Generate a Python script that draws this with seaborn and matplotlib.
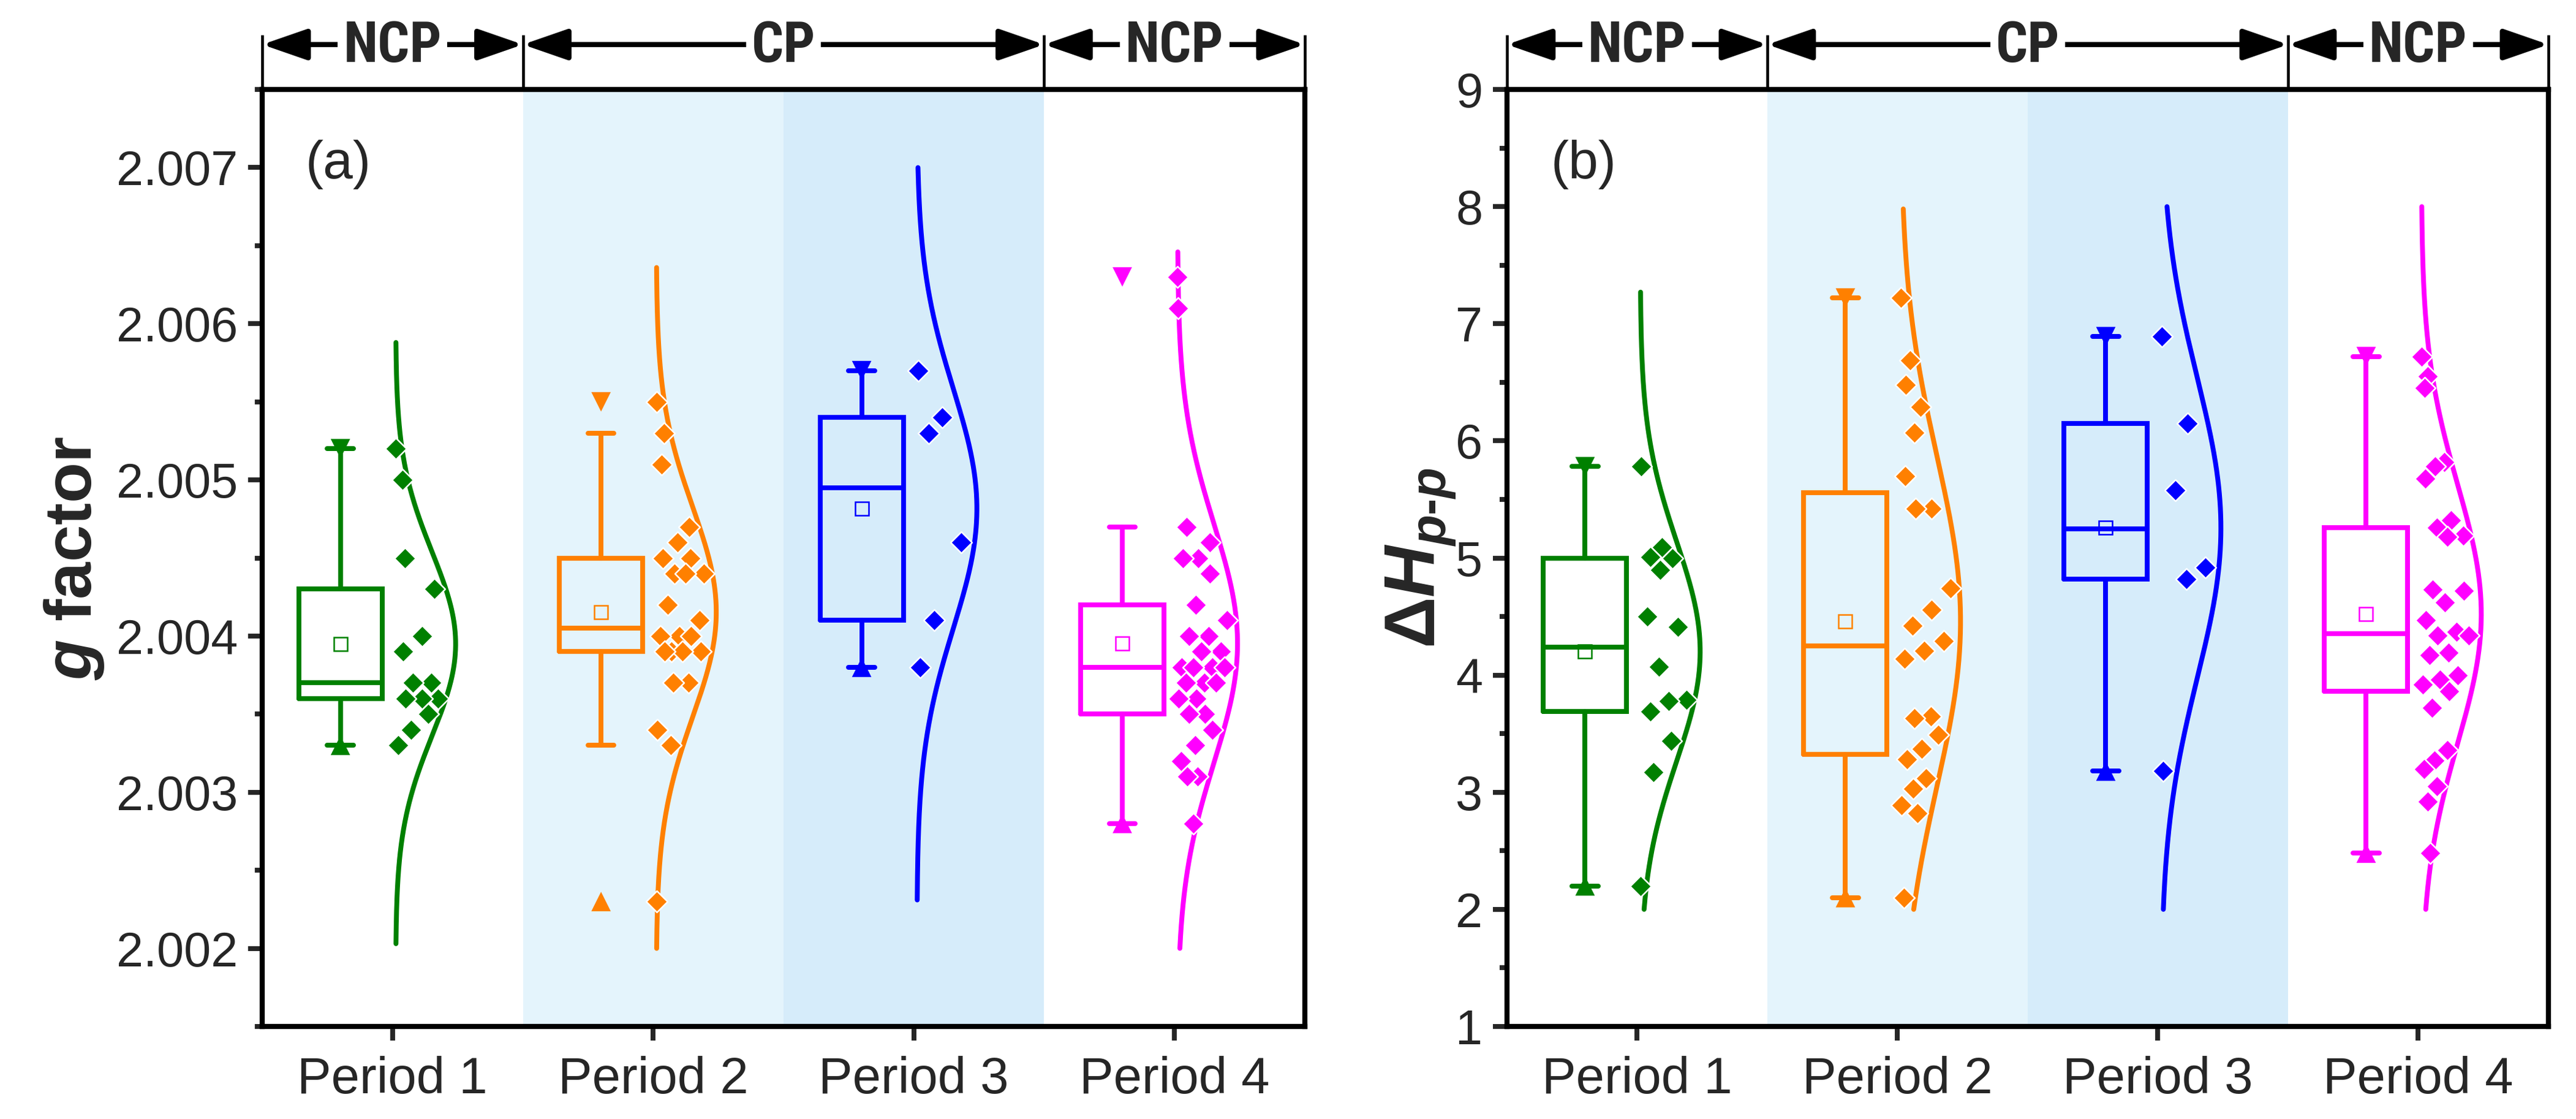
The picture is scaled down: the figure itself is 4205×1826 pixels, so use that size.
import numpy as np
import matplotlib
matplotlib.use("Agg")
import matplotlib.pyplot as plt
import seaborn as sns
from matplotlib import font_manager
from matplotlib.patches import ArrowStyle
from matplotlib.ticker import MultipleLocator, FormatStrFormatter

# ---------------- data ----------------
periods = ["Period 1", "Period 2", "Period 3", "Period 4"]
colors = ["#008000", "#FF8000", "#0000FF", "#FF00FF"]
regions = ["NCP", "CP", "NCP"]

g_p1 = [2.0052, 2.0050, 2.0045, 2.0043, 2.0040, 2.0039, 2.0037, 2.0037,
        2.0036, 2.0036, 2.0036, 2.0035, 2.0034, 2.0033]
g_p2 = [2.0055, 2.0053, 2.0051, 2.0047, 2.0046, 2.0045, 2.0045, 2.0044,
        2.0044, 2.0044, 2.0042, 2.0041, 2.0040, 2.0040, 2.0040, 2.0039,
        2.0039, 2.0039, 2.0039, 2.0037, 2.0037, 2.0034, 2.0033, 2.0023]
g_p3 = [2.0057, 2.0054, 2.0053, 2.0046, 2.0041, 2.0038]
g_p4 = [2.0063, 2.0061, 2.0047, 2.0046, 2.0045, 2.0045, 2.0044, 2.0042,
        2.0041, 2.0040, 2.0040, 2.0039, 2.0039, 2.0038, 2.0038, 2.0038,
        2.0038, 2.0037, 2.0037, 2.0037, 2.0036, 2.0036, 2.0035, 2.0035,
        2.0034, 2.0033, 2.0032, 2.0031, 2.0031, 2.0028]

h_p1 = [5.78, 5.09, 5.01, 5.00, 4.90, 4.50, 4.41, 4.07, 3.79, 3.78, 3.69,
        3.44, 3.17, 2.20]
h_p2 = [7.22, 6.69, 6.48, 6.29, 6.07, 5.70, 5.42, 5.42, 4.74, 4.56, 4.42,
        4.29, 4.21, 4.14, 3.65, 3.63, 3.49, 3.37, 3.28, 3.12, 3.03, 2.89,
        2.82, 2.10]
h_p3 = [6.89, 6.15, 5.58, 4.92, 4.82, 3.18]
h_p4 = [6.72, 6.55, 6.45, 5.82, 5.78, 5.68, 5.32, 5.26, 5.19, 5.18, 4.73,
        4.72, 4.62, 4.47, 4.37, 4.34, 4.34, 4.19, 4.17, 4.00, 3.96, 3.92,
        3.86, 3.72, 3.36, 3.27, 3.20, 3.05, 2.92, 2.48]

# value range over which each normal curve is drawn
g_curve_lo = [2.00203, 2.00200, 2.00231, 2.00200]
g_curve_hi = [2.00588, 2.00636, 2.00700, 2.00646]
h_curve_lo = [2.0, 2.0, 2.0, 2.0]
h_curve_hi = [7.27, 7.98, 8.0, 8.0]

# ---------------- style ----------------
sns.set_theme(style="ticks")
plt.rcParams["font.family"] = ["Liberation Sans", "DejaVu Sans"]
plt.rcParams["mathtext.fontset"] = "custom"
plt.rcParams["mathtext.rm"] = "Liberation Sans:bold"
plt.rcParams["mathtext.bf"] = "Liberation Sans:bold"
plt.rcParams["mathtext.it"] = "Liberation Sans:italic:bold"
plt.rcParams["axes.linewidth"] = 2.0
plt.rcParams["axes.edgecolor"] = "black"

entries = font_manager.fontManager.ttflist


def has_font(name):
    return any(f.name == name for f in entries)


if has_font("Liberation Sans Narrow"):
    narrow_family, narrow_stretch, narrow_size = "Liberation Sans Narrow", "normal", 22
elif has_font("Roboto Condensed"):
    narrow_family, narrow_stretch, narrow_size = "Roboto Condensed", "normal", 22
elif any(f.name == "DejaVu Sans" and str(f.stretch) == "condensed" for f in entries):
    narrow_family, narrow_stretch, narrow_size = "DejaVu Sans", "condensed", 20
else:
    narrow_family, narrow_stretch, narrow_size = "Liberation Sans", "normal", 20

shade_light = "#E4F4FC"
shade_dark = "#D6ECFA"
box_off, box_w, cap_w = -0.2, 0.32, 0.10
base_off, amp = 0.012, 0.23
LW = 1.9


def tukey_stats(vals):
    v = np.sort(np.asarray(vals, float))
    n = len(v)
    half = (n + 1) // 2
    q1 = np.median(v[:half])
    q3 = np.median(v[n - half:])
    iqr = q3 - q1
    lo = v[v >= q1 - 1.5 * iqr].min()
    hi = v[v <= q3 + 1.5 * iqr].max()
    return dict(med=np.median(v), q1=q1, q3=q3, whislo=lo, whishi=hi,
                mean=v.mean(), fliers=[])


def draw_panel(ax, groups, curve_lo, curve_hi):
    ax.axvspan(1.5, 2.5, color=shade_light, lw=0, zorder=0)
    ax.axvspan(2.5, 3.5, color=shade_dark, lw=0, zorder=0)
    for i, (vals, c) in enumerate(zip(groups, colors)):
        pos = i + 1
        v = np.asarray(vals, float)
        st = tukey_stats(v)
        # min / max markers
        sns.scatterplot(x=[pos + box_off], y=[v.max()], marker="v", s=58,
                        color=c, edgecolor="none", ax=ax, zorder=2)
        sns.scatterplot(x=[pos + box_off], y=[v.min()], marker="^", s=58,
                        color=c, edgecolor="none", ax=ax, zorder=2)
        ax.bxp([st], positions=[pos + box_off], widths=box_w, capwidths=cap_w,
               showfliers=False, showmeans=True, manage_ticks=False,
               boxprops=dict(color=c, lw=LW, solid_joinstyle="miter"),
               whiskerprops=dict(color=c, lw=LW),
               capprops=dict(color=c, lw=LW),
               medianprops=dict(color=c, lw=LW),
               meanprops=dict(marker="s", mfc="none", mec=c, ms=5.5, mew=0.6),
               zorder=3)
        # normal distribution curve
        mu, sd = v.mean(), v.std(ddof=1)
        yy = np.linspace(curve_lo[i], curve_hi[i], 400)
        ww = amp * np.exp(-0.5 * ((yy - mu) / sd) ** 2)
        sns.lineplot(x=pos + base_off + ww, y=yy, sort=False, estimator=None,
                     color=c, lw=LW, ax=ax, zorder=4)
        # data points, spread inside the curve
        order = np.argsort(-v, kind="stable")
        xs = np.empty(len(v))
        for k, idx in enumerate(order):
            u = (k * 0.618034 + 0.05) % 1.0
            w = amp * np.exp(-0.5 * ((v[idx] - mu) / sd) ** 2)
            xs[idx] = pos + base_off + u * 0.85 * w
        sns.scatterplot(x=xs, y=v, marker="D", s=35, color=c,
                        edgecolor="white", linewidth=0.6, ax=ax, zorder=5)

    ax.set_xlim(0.5, 4.5)
    ax.set_xticks(range(1, 5))
    ax.set_xticklabels(periods)
    ax.tick_params(axis="x", which="major", direction="out", length=5.5,
                   width=LW, labelsize=20, pad=6, top=False)
    ax.tick_params(axis="y", which="major", direction="out", length=5.5,
                   width=LW, labelsize=19, pad=4, right=False)
    ax.tick_params(axis="y", which="minor", direction="out", length=2.8,
                   width=LW, right=False)
    ax.tick_params(axis="x", which="minor", bottom=False, top=False)
    for sp in ax.spines.values():
        sp.set_linewidth(2.0)
        sp.set_color("black")

    # top region brackets
    trans = ax.get_xaxis_transform()
    for xb in [0.5, 1.5, 3.5, 4.5]:
        ax.plot([xb, xb], [1.0, 1.058], transform=trans, color="black",
                lw=1.1, clip_on=False, solid_capstyle="butt")
    spans = [(0.5, 1.5), (1.5, 3.5), (3.5, 4.5)]
    for (x0, x1), lab in zip(spans, regions):
        ax.annotate("", xy=(x0, 1.048), xytext=(x1, 1.048), xycoords=trans,
                    textcoords=trans, annotation_clip=False,
                    arrowprops=dict(arrowstyle=ArrowStyle("<|-|>", head_length=15,
                                                          head_width=5.2),
                                    mutation_scale=1, lw=2.0, color="black",
                                    shrinkA=0, shrinkB=0))
        ax.text((x0 + x1) / 2, 1.046, lab, transform=trans, ha="center",
                va="center", fontsize=narrow_size, fontweight="bold",
                family=narrow_family, fontstretch=narrow_stretch, zorder=10,
                bbox=dict(boxstyle="square,pad=0.1", fc="white", ec="none"))


fig = plt.figure(figsize=(4205 / 300, 1826 / 300), dpi=300)
ax1 = fig.add_axes([0.1018, 0.0827, 0.4047, 0.8373])
ax2 = fig.add_axes([0.5850, 0.0827, 0.4043, 0.8373])

draw_panel(ax1, [g_p1, g_p2, g_p3, g_p4], g_curve_lo, g_curve_hi)
ax1.set_ylim(2.0015, 2.0075)
ax1.yaxis.set_major_locator(MultipleLocator(0.001))
ax1.yaxis.set_minor_locator(MultipleLocator(0.0005))
ax1.yaxis.set_major_formatter(FormatStrFormatter("%.3f"))
ax1.set_ylabel(r"$g$ factor", fontsize=26, fontweight="bold")
ax1.yaxis.set_label_coords(-0.15, 0.5)
ax1.text(0.073, 0.92, "(a)", transform=ax1.transAxes, fontsize=21,
         ha="center", va="center")

draw_panel(ax2, [h_p1, h_p2, h_p3, h_p4], h_curve_lo, h_curve_hi)
ax2.set_ylim(1, 9)
ax2.yaxis.set_major_locator(MultipleLocator(1))
ax2.yaxis.set_minor_locator(MultipleLocator(0.5))
ax2.yaxis.set_major_formatter(FormatStrFormatter("%d"))
ax2.set_ylabel(r"$\Delta H_{p\text{-}p}$", fontsize=28, fontweight="bold")
ax2.yaxis.set_label_coords(-0.047, 0.5)
ax2.text(0.0735, 0.92, "(b)", transform=ax2.transAxes, fontsize=21,
         ha="center", va="center")

fig.savefig("out.png", dpi=300)
